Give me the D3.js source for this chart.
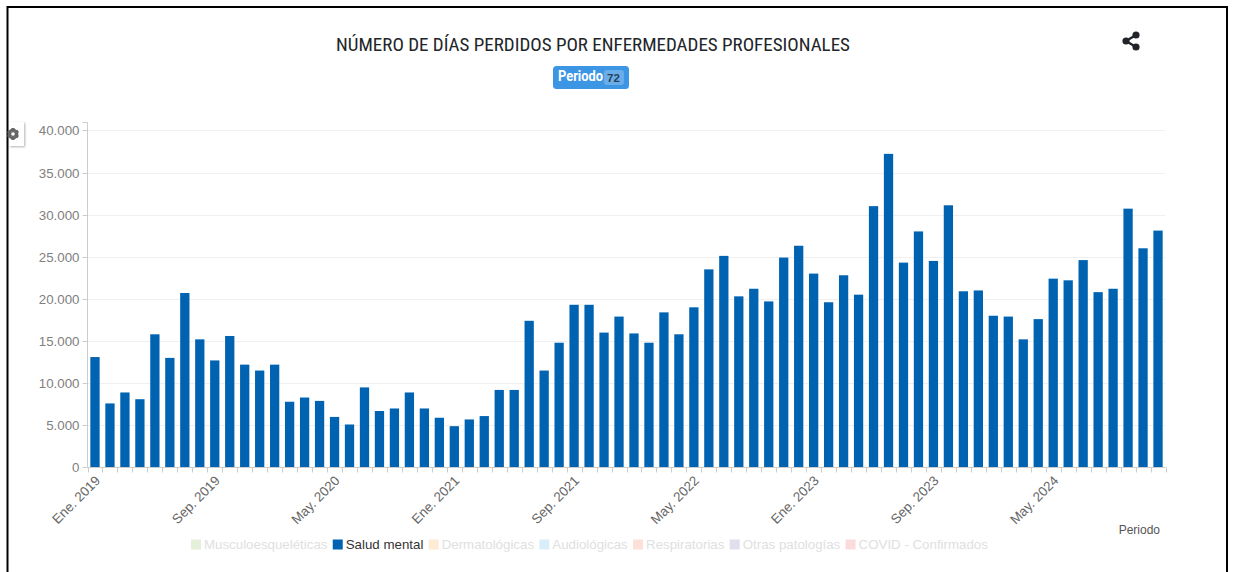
<!DOCTYPE html>
<html lang="es"><head><meta charset="utf-8">
<script src="https://cdn.jsdelivr.net/npm/d3@7"></script>
<style>
html,body{margin:0;padding:0;background:#fff;overflow:hidden}
svg{display:block}
text{font-family:"Liberation Sans",Arial,sans-serif}
.domain{display:none}
</style></head><body><svg id="c" width="1234" height="572"></svg>
<script>
const months = ["Ene.","Feb.","Mar.","Abr.","May.","Jun.","Jul.","Ago.","Sep.","Oct.","Nov.","Dic."];
const years = [2019,2020,2021,2022,2023,2024];
const categories = years.flatMap(y => months.map(m => m + " " + y));
const saludMental = [
 13100,7600,8900,8100,15800,13000,20700,15200,12700,15600,12200,11500,
 12200,7800,8300,7900,6000,5100,9500,6700,7000,8900,7000,5900,
 4900,5700,6100,9200,9200,17400,11500,14800,19300,19300,16000,17900,
 15900,14800,18400,15800,19000,23500,25100,20300,21200,19700,24900,26300,
 23000,19600,22800,20500,31000,37200,24300,28000,24500,31100,20900,21000,
 18000,17900,15200,17600,22400,22200,24600,20800,21200,30700,26000,28100];
const xTickLabels = ["Ene. 2019","Sep. 2019","May. 2020","Ene. 2021","Sep. 2021","May. 2022","Ene. 2023","Sep. 2023","May. 2024"];
const yTicks = [0,5000,10000,15000,20000,25000,30000,35000,40000];
const legendNames = ["Musculoesqueléticas","Salud mental","Dermatológicas","Audiológicas","Respiratorias","Otras patologías","COVID - Confirmados"];
const legendSwatch = ["#e4f0da","#0063b1","#fdebd6","#d9eefa","#fde0d8","#e2deee","#fbdcdc"];
const legendActive = "Salud mental";

const svg = d3.select("#c");
const L=87.5,R=1165.5,B=467.5,T=122.5;
const yMax=40920;
const x = d3.scaleBand().domain(categories).range([L,R]).paddingInner(0.38).paddingOuter(0.19);
const xEdge = d3.scaleLinear().domain([0,categories.length]).range([L,R]);
const y = d3.scaleLinear().domain([0,yMax]).range([B,T]);
const yPix = d => Math.min(B, Math.round(y(d)+.1)+.5);

// frame
svg.append("path").attr("d","M7.5 572V7H1227V572").attr("fill","none").attr("stroke","#000").attr("stroke-width",2);

// grid
svg.append("g").selectAll("line").data(yTicks.slice(1)).join("line")
 .attr("x1",L).attr("x2",R).attr("y1",yPix).attr("y2",yPix)
 .attr("stroke","#f0f0f0");

// y axis
const fmt = d => d3.format(",")(d).replace(/,/g,".");
const gy = svg.append("g").attr("transform",`translate(${L},0)`)
 .call(d3.axisLeft(y).tickValues(yTicks).tickFormat(fmt).tickSize(5).tickPadding(3));
gy.selectAll(".tick").attr("transform",d=>`translate(0,${yPix(d)})`);
gy.selectAll("line").attr("stroke","#ccc");
gy.selectAll("text").attr("fill","#808080").style("font-size","13.3px").style("font-family",'"Liberation Sans"');
svg.append("line").attr("x1",L-5).attr("x2",L).attr("y1",T).attr("y2",T).attr("stroke","#ccc");
svg.append("line").attr("x1",L).attr("x2",L).attr("y1",T).attr("y2",B).attr("stroke","#ccc");

// bars
svg.append("g").selectAll("rect").data(saludMental).join("rect")
 .attr("x",(d,i)=>x(categories[i])).attr("width",x.bandwidth())
 .attr("y",d=>y(d)).attr("height",d=>B-y(d)).attr("fill","#0063b1");

// x axis
svg.append("line").attr("x1",L).attr("x2",R).attr("y1",B).attr("y2",B).attr("stroke","#ccc");
svg.append("g").selectAll("line").data(d3.range(categories.length+1)).join("line")
 .attr("x1",d=>Math.round(xEdge(d))+.5).attr("x2",d=>Math.round(xEdge(d))+.5)
 .attr("y1",B).attr("y2",B+5).attr("stroke","#ccc");
const gx = svg.append("g").attr("transform",`translate(0,${B})`)
 .call(d3.axisBottom(x).tickValues(xTickLabels).tickSize(0).tickPadding(0));
gx.selectAll("text").attr("fill","#666").attr("text-anchor","end").attr("dy",0).attr("y",0)
 .attr("transform","translate(6,14) rotate(-45)").style("font-size","13.4px").style("font-family",'"Liberation Sans"');

svg.append("text").attr("x",1160).attr("y",534).attr("text-anchor","end").attr("fill","#555").style("font-size","12px").text("Periodo");

// title
svg.append("text").attr("x",593).attr("y",51).attr("text-anchor","middle").attr("fill","#212529")
 .style("font-family",'"Liberation Sans Narrow","Roboto Condensed",Roboto').style("font-size","19px").text("NÚMERO DE DÍAS PERDIDOS POR ENFERMEDADES PROFESIONALES");

// badge
svg.append("rect").attr("x",553).attr("y",66).attr("width",76).attr("height",23).attr("rx",3.5).attr("fill","#3c96e4");
svg.append("text").attr("x",558).attr("y",81).attr("fill","#fff").style("font-size","14px").style("font-weight","700")
 .style("font-family",'Roboto').attr("textLength",45).attr("lengthAdjust","spacingAndGlyphs").text("Periodo");
svg.append("rect").attr("x",604).attr("y",70).attr("width",20).attr("height",15).attr("rx",3).attr("fill","#6aaee9");
svg.append("text").attr("x",613.5).attr("y",81.5).attr("text-anchor","middle").attr("fill","#26405c").style("font-size","11.5px").style("font-weight","700").text("72");

// share icon
const sh = svg.append("g").attr("fill","#212529").attr("stroke","#212529");
sh.append("path").attr("d","M1136 35L1126 41L1136 47").attr("fill","none").attr("stroke-width",2.4);
[[1136,35],[1126,41],[1136,47]].forEach(p=>sh.append("circle").attr("cx",p[0]).attr("cy",p[1]).attr("r",3.6).attr("stroke","none"));

// gear tab
const defs = svg.append("defs");
const f = defs.append("filter").attr("id","sh").attr("x","-30%").attr("y","-30%").attr("width","160%").attr("height","160%");
f.append("feDropShadow").attr("dx",1).attr("dy",1).attr("stdDeviation",1).attr("flood-color","#000").attr("flood-opacity",.3);
svg.append("rect").attr("x",9).attr("y",122).attr("width",15).attr("height",24).attr("fill","#fff").attr("filter","url(#sh)");
const gear = svg.append("g").attr("transform","translate(13,134)");
d3.range(3).forEach(i=>gear.append("rect").attr("x",-1.5).attr("y",-6).attr("width",3).attr("height",12).attr("fill","#666").attr("transform",`rotate(${i*60})`));
gear.append("circle").attr("r",4.2).attr("fill","none").attr("stroke","#666").attr("stroke-width",2.4);
gear.append("circle").attr("r",1.8).attr("fill","#fff");

// legend
let lx=191;
const lg=svg.append("g");
legendNames.forEach((n,i)=>{
 const on = n===legendActive;
 lg.append("rect").attr("x",lx).attr("y",539.5).attr("width",10).attr("height",10).attr("fill",legendSwatch[i]);
 const t=lg.append("text").attr("x",lx+13).attr("y",549).attr("fill",on?"#333":"#e0e0e0").style("font-size","13.3px").text(n);
 lx+=13+t.node().getComputedTextLength()+5.3;
});
</script></body></html>
